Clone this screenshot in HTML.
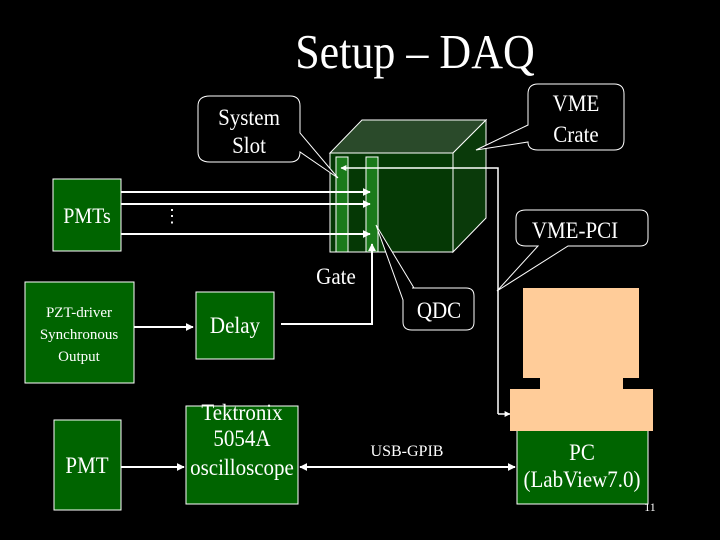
<!DOCTYPE html>
<html><head><style>
html,body{margin:0;padding:0;background:#000;}
svg{display:block;}
text{font-family:"Liberation Serif","Times New Roman",serif;fill:#fff;}
</style></head><body>
<svg width="720" height="540" viewBox="0 0 720 540" xmlns="http://www.w3.org/2000/svg">
<defs>
<marker id="a" viewBox="0 0 10 10" refX="9" refY="5" markerWidth="4" markerHeight="4" orient="auto-start-reverse"><path d="M0,0L10,5L0,10z" fill="#fff"/></marker>
</defs>
<rect width="720" height="540" fill="#000"/>
<text x="415" y="68" font-size="44" text-anchor="middle" transform="translate(0,-6.8) scale(1,1.1)">Setup – DAQ</text>

<polygon points="330,153 362,120 486,120 453,153" fill="#2a4a2a" stroke="#fff" stroke-width="1"/>
<polygon points="453,153 486,120 486,218 453,252" fill="#0a3a0a" stroke="#fff" stroke-width="1"/>
<rect x="330" y="153" width="123" height="99" fill="#053805" stroke="#fff" stroke-width="1"/>
<rect x="336" y="157" width="12" height="95" fill="#1a7a1a" stroke="#fff" stroke-width="1"/>
<rect x="366" y="157" width="12" height="95" fill="#1a7a1a" stroke="#fff" stroke-width="1"/>

<rect x="53" y="179" width="68" height="72" fill="#006400" stroke="#fff" stroke-width="1"/>
<text x="87" y="223" font-size="20" text-anchor="middle" transform="translate(0,-22.3) scale(1,1.1)">PMTs</text>
<g stroke="#fff" stroke-width="2" fill="none">
<line x1="121" y1="192" x2="370" y2="192" marker-end="url(#a)"/>
<line x1="121" y1="204" x2="370" y2="204" marker-end="url(#a)"/>
<line x1="121" y1="234" x2="370" y2="234" marker-end="url(#a)"/>
</g>
<text x="172" y="222" font-size="18" text-anchor="middle">⋮</text>

<path d="M210,96 H290 Q300,96 300,106 V133 L338,178 L300,152 Q300,162 290,162 H210 Q198,162 198,152 V106 Q198,96 210,96Z" fill="#000" stroke="#fff" stroke-width="1"/>
<text x="249" y="125" font-size="21" text-anchor="middle" transform="translate(0,-12.5) scale(1,1.1)">System</text>
<text x="249" y="153" font-size="21" text-anchor="middle" transform="translate(0,-15.3) scale(1,1.1)">Slot</text>

<path d="M538,84 H614 Q624,84 624,94 V140 Q624,150 614,150 H538 Q528,150 528,142 L476,150 L528,125 V94 Q528,84 538,84Z" fill="#000" stroke="#fff" stroke-width="1"/>
<text x="576" y="111" font-size="21" text-anchor="middle" transform="translate(0,-11.1) scale(1,1.1)">VME</text>
<text x="576" y="142" font-size="21" text-anchor="middle" transform="translate(0,-14.2) scale(1,1.1)">Crate</text>

<path d="M526,210 H640 Q648,210 648,218 V238 Q648,246 640,246 H568 L497,291 L538,246 H526 Q516,246 516,238 V218 Q516,210 526,210Z" fill="#000" stroke="#fff" stroke-width="1"/>
<text x="575" y="238" font-size="21" text-anchor="middle" transform="translate(0,-23.8) scale(1,1.1)">VME-PCI</text>

<path d="M412,288 H466 Q474,288 474,296 V322 Q474,330 466,330 H412 Q403,330 403,322 V300 L376,225 L414,288Z" fill="#000" stroke="#fff" stroke-width="1"/>
<text x="439" y="318" font-size="21" text-anchor="middle" transform="translate(0,-31.8) scale(1,1.1)">QDC</text>

<g stroke="#fff" stroke-width="1.5" fill="none">
<polyline points="498,414 498,168 341,168" marker-end="url(#a)"/>
<line x1="498" y1="414" x2="510" y2="414" marker-end="url(#a)"/>
<polyline points="281,324 372,324 372,244" stroke-width="2" marker-end="url(#a)"/>
</g>
<text x="336" y="284" font-size="21" text-anchor="middle" transform="translate(0,-28.4) scale(1,1.1)">Gate</text>

<rect x="25" y="282" width="109" height="101" fill="#006400" stroke="#fff" stroke-width="1"/>
<text x="79" y="317" font-size="15" text-anchor="middle">PZT-driver</text>
<text x="79" y="339" font-size="15" text-anchor="middle">Synchronous</text>
<text x="79" y="361" font-size="15" text-anchor="middle">Output</text>
<line x1="134" y1="327" x2="193" y2="327" stroke="#fff" stroke-width="2" marker-end="url(#a)"/>

<rect x="196" y="292" width="78" height="67" fill="#006400" stroke="#fff" stroke-width="1"/>
<text x="235" y="333" font-size="21" text-anchor="middle" transform="translate(0,-33.3) scale(1,1.1)">Delay</text>

<rect x="54" y="420" width="67" height="90" fill="#006400" stroke="#fff" stroke-width="1"/>
<text x="87" y="473" font-size="21" text-anchor="middle" transform="translate(0,-47.3) scale(1,1.1)">PMT</text>
<line x1="121" y1="467" x2="184" y2="467" stroke="#fff" stroke-width="2" marker-end="url(#a)"/>

<rect x="186" y="406" width="112" height="98" fill="#006400" stroke="#fff" stroke-width="1"/>
<text x="242" y="420" font-size="21" text-anchor="middle" transform="translate(0,-42) scale(1,1.1)">Tektronix</text>
<text x="242" y="446" font-size="21" text-anchor="middle" transform="translate(0,-44.6) scale(1,1.1)">5054A</text>
<text x="242" y="475" font-size="21" text-anchor="middle" transform="translate(0,-47.5) scale(1,1.1)">oscilloscope</text>

<line x1="300" y1="467" x2="515" y2="467" stroke="#fff" stroke-width="2" marker-start="url(#a)" marker-end="url(#a)"/>
<text x="407" y="456" font-size="16" text-anchor="middle">USB-GPIB</text>

<rect x="517" y="430" width="131" height="74" fill="#006400" stroke="#fff" stroke-width="1"/>
<rect x="523" y="288" width="116" height="90" fill="#ffcc99"/>
<rect x="540" y="377" width="83" height="13" fill="#ffcc99"/>
<rect x="510" y="389" width="143" height="42" fill="#ffcc99"/>
<text x="582" y="460" font-size="21" text-anchor="middle" transform="translate(0,-46) scale(1,1.1)">PC</text>
<text x="582" y="487" font-size="21" text-anchor="middle" transform="translate(0,-48.7) scale(1,1.1)">(LabView7.0)</text>
<text x="650" y="511" font-size="12" text-anchor="middle">11</text>
</svg>
</body></html>
